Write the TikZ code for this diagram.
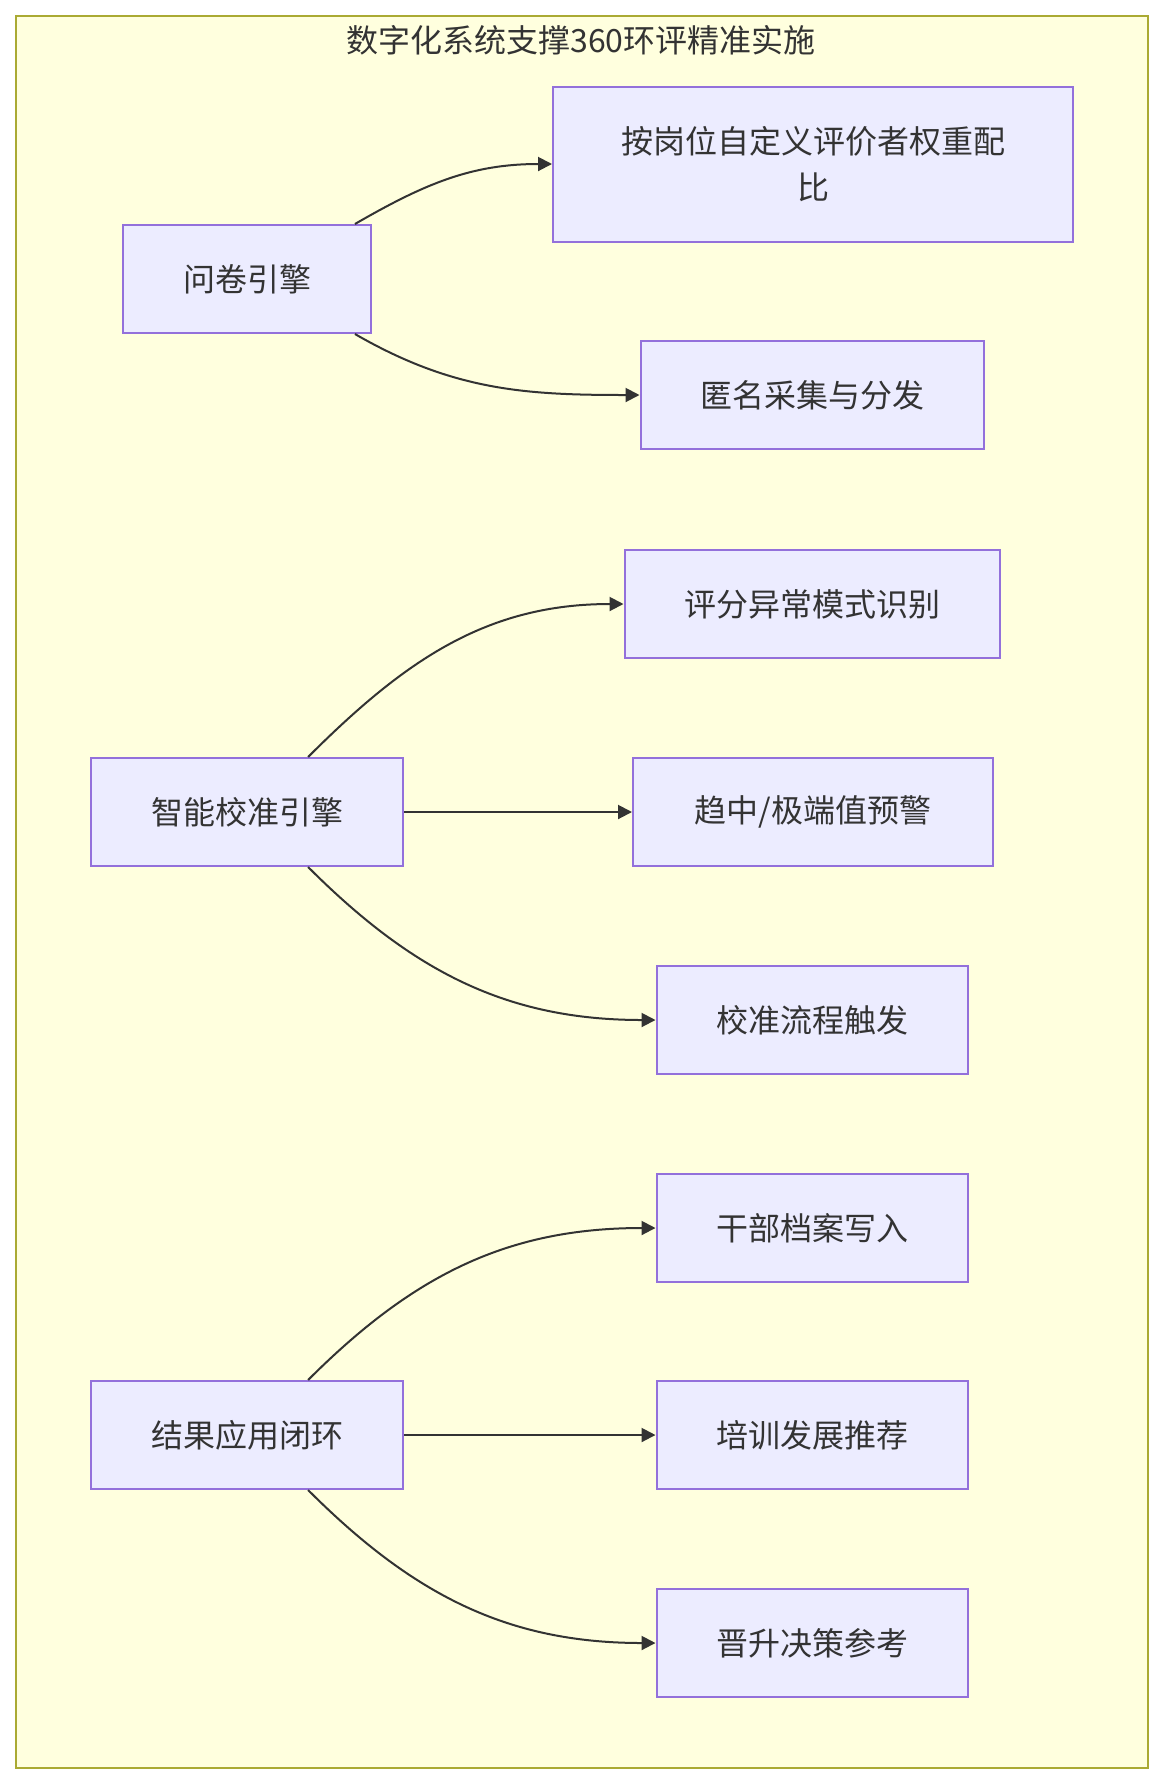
\documentclass[tikz,border=0pt]{standalone}
\usepackage{fontspec}
\newfontfamily\cjk{Noto Sans CJK SC}
\usetikzlibrary{arrows.meta}
\definecolor{clusterfill}{HTML}{FFFFDE}
\definecolor{clusterline}{HTML}{AAAA33}
\definecolor{nodefill}{HTML}{ECECFF}
\definecolor{nodeline}{HTML}{9370DB}
\definecolor{inkgray}{HTML}{333333}
\begin{document}
\begin{tikzpicture}[x=0.5pt, y=-0.5pt,
    box/.style={draw=nodeline, fill=nodefill, line width=1pt, text=inkgray, align=center,
        font=\cjk\fontsize{16pt}{22.8pt}\selectfont, minimum height=54pt, inner sep=0pt},
    link/.style={draw=inkgray, line width=1pt, -{Triangle[length=7pt, width=7pt]}}]
    \useasboundingbox (0, 0) rectangle (1164, 1784);
    % 外框与标题
    \draw[fill=clusterfill, draw=clusterline, line width=1pt] (16, 16) rectangle (1148, 1768);
    \node[text=inkgray, font=\cjk\fontsize{16pt}{20pt}\selectfont] (title) at (581, 40) {数字化系统支撑360环评精准实施};

    % 问卷引擎
    \node[box, minimum width=124pt] (quiz) at (247, 279) {问卷引擎};
    \node[box, minimum width=260pt, minimum height=77.5pt] (weight) at (813, 164) {按岗位自定义评价者权重配\\比};
    \node[box, minimum width=171.5pt] (anon) at (812, 395) {匿名采集与分发};

    % 智能校准引擎
    \node[box, minimum width=156pt] (calib) at (247, 812) {智能校准引擎};
    \node[box, minimum width=187.5pt] (pattern) at (812, 604) {评分异常模式识别};
    \node[box, minimum width=180pt] (extreme) at (813, 812) {趋中/极端值预警};
    \node[box, minimum width=155.5pt] (trigger) at (812, 1020) {校准流程触发};

    % 结果应用闭环
    \node[box, minimum width=156pt] (result) at (247, 1435) {结果应用闭环};
    \node[box, minimum width=155.5pt] (archive) at (812, 1228) {干部档案写入};
    \node[box, minimum width=155.5pt] (train) at (812, 1435) {培训发展推荐};
    \node[box, minimum width=155.5pt] (promo) at (812, 1643) {晋升决策参考};

    % 连线
    \draw[link] (quiz.27) to[out=30, in=180] (weight.west);
    \draw[link] (quiz.-27) to[out=-30, in=180] (anon.west);
    \draw[link] (calib.42) to[out=45, in=180] (pattern.west);
    \draw[link] (calib.east) -- (extreme.west);
    \draw[link] (calib.-42) to[out=-45, in=180] (trigger.west);
    \draw[link] (result.42) to[out=45, in=180] (archive.west);
    \draw[link] (result.east) -- (train.west);
    \draw[link] (result.-42) to[out=-45, in=180] (promo.west);
\end{tikzpicture}
\end{document}
